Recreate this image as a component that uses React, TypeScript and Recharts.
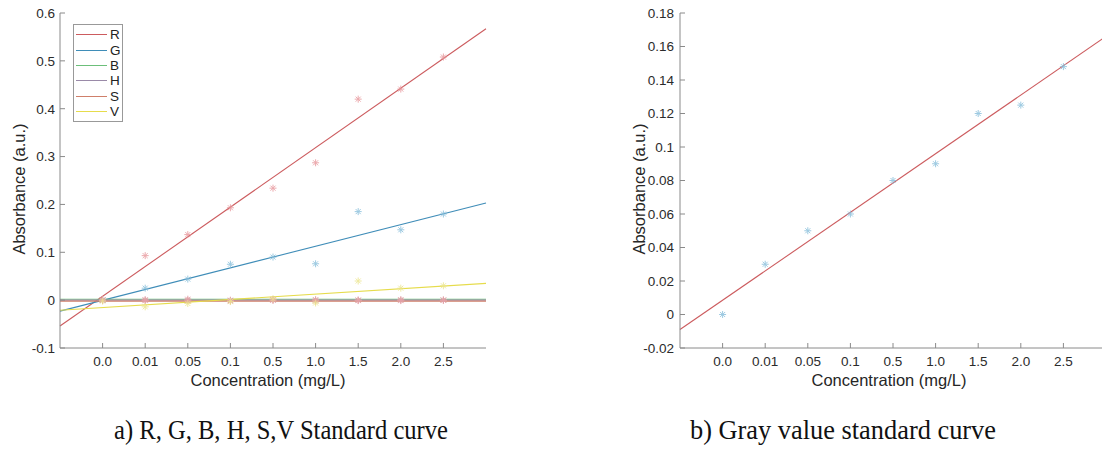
import React from "react";
import { ComposedChart, Line, Scatter, XAxis, YAxis, Legend } from "recharts";

// concentration categories (mg/L), plotted at positions 1..9
const concLabels = ["0.0", "0.01", "0.05", "0.1", "0.5", "1.0", "1.5", "2.0", "2.5"];

// measured absorbance per channel
const rPoints = [0.0, 0.093, 0.137, 0.193, 0.234, 0.287, 0.42, 0.441, 0.508];
const gPoints = [0.0, 0.025, 0.044, 0.075, 0.09, 0.076, 0.185, 0.147, 0.18];
const bPoints = [0.0, 0.001, 0.002, -0.001, 0.0, -0.002, 0.0, 0.001, 0.0];
const hPoints = [0.0, 0.0, -0.001, 0.0, 0.001, 0.0, 0.0, -0.001, 0.0];
const sPoints = [0.0, -0.001, 0.0, -0.002, 0.0, 0.001, -0.001, 0.0, 0.0];
const vPoints = [-0.002, -0.014, -0.007, -0.003, 0.003, -0.006, 0.04, 0.025, 0.03];
const grayPoints = [0.0, 0.03, 0.05, 0.06, 0.08, 0.09, 0.12, 0.125, 0.148];

// fitted standard curves: value at the left and right ends of the x range
const fitX = [0, 10];
const rFit = [-0.054, 0.567];
const gFit = [-0.023, 0.203];
const bFit = [0.002, 0.002];
const hFit = [0.0, 0.0];
const sFit = [-0.002, -0.002];
const vFit = [-0.021, 0.035];
const grayFit = [-0.009, 0.166];

const leftTicks = [-0.1, 0, 0.1, 0.2, 0.3, 0.4, 0.5, 0.6];
const rightTicks = [-0.02, 0, 0.02, 0.04, 0.06, 0.08, 0.1, 0.12, 0.14, 0.16, 0.18];
const xTicks = concLabels.map((_, i) => i + 1);

const channels = [
  { name: "R", points: rPoints, fit: rFit, line: "#cc5b5e", mark: "#e8959a" },
  { name: "G", points: gPoints, fit: gFit, line: "#3f8db8", mark: "#86bedb" },
  { name: "B", points: bPoints, fit: bFit, line: "#6cbf7a", mark: "#e4a2a8" },
  { name: "H", points: hPoints, fit: hFit, line: "#9a8aa8", mark: "#e4a2a8" },
  { name: "S", points: sPoints, fit: sFit, line: "#cf7f6a", mark: "#e4a2a8" },
  { name: "V", points: vPoints, fit: vFit, line: "#e6dc4c", mark: "#ece68c" },
];

const toPoints = (vals: number[]) => vals.map((y, i) => ({ x: i + 1, y }));
const toFit = (vals: number[]) => vals.map((y, i) => ({ x: fitX[i], y }));

const AXIS = "#8a8a8a";
const FONT = "'Liberation Sans', Arial, sans-serif";
const tickStyle = { fontSize: 13.5, fill: "#2b2b2b", fontFamily: FONT };
const tickLine = { stroke: AXIS, strokeWidth: 1 };
const noLabel = () => <g />;

const asterisk = (color: string) => (props: any) => {
  const { cx, cy } = props;
  const r = 3.5;
  const d = 2.5;
  return (
    <g stroke={color} strokeWidth={1} opacity={0.8}>
      <line x1={cx - r} y1={cy} x2={cx + r} y2={cy} />
      <line x1={cx} y1={cy - r} x2={cx} y2={cy + r} />
      <line x1={cx - d} y1={cy - d} x2={cx + d} y2={cy + d} />
      <line x1={cx - d} y1={cy + d} x2={cx + d} y2={cy - d} />
    </g>
  );
};

const LegendBox = () => (
  <div
    style={{
      width: 50,
      height: 98,
      boxSizing: "border-box",
      border: "1px solid #999",
      background: "#fff",
      paddingTop: 2,
      fontFamily: FONT,
      fontSize: 13.5,
      color: "#222",
    }}
  >
    {channels.map((c) => (
      <div key={c.name} style={{ display: "flex", alignItems: "center", height: 15.4 }}>
        <div style={{ width: 31, height: 1, background: c.line, marginLeft: 2, marginRight: 3 }} />
        <span style={{ lineHeight: "15px" }}>{c.name}</span>
      </div>
    ))}
  </div>
);

function Axes({ ticks, domain, yWidth, tickMargin }: any) {
  return (
    <>
      <XAxis
        xAxisId={0}
        type="number"
        dataKey="x"
        domain={[0, 10]}
        ticks={xTicks}
        tickFormatter={(v: number) => concLabels[v - 1]}
        tick={tickStyle}
        tickLine={tickLine}
        stroke={AXIS}
        tickSize={-5}
        tickMargin={13}
        height={40}
        interval={0}
      />
      <XAxis
        xAxisId="top"
        orientation="top"
        type="number"
        domain={[0, 10]}
        ticks={xTicks}
        tick={noLabel}
        tickLine={tickLine}
        stroke={AXIS}
        tickSize={-5}
        height={0}
        interval={0}
      />
      <YAxis
        yAxisId={0}
        type="number"
        domain={domain}
        ticks={ticks}
        tick={tickStyle}
        tickLine={tickLine}
        stroke={AXIS}
        tickSize={-5}
        tickMargin={tickMargin}
        width={yWidth}
        interval={0}
      />
      <YAxis
        yAxisId="right"
        orientation="right"
        type="number"
        domain={domain}
        ticks={ticks}
        tick={noLabel}
        tickLine={tickLine}
        stroke={AXIS}
        tickSize={-5}
        width={0}
        interval={0}
      />
    </>
  );
}

export default function App() {
  return (
    <div style={{ position: "relative", width: 1102, height: 455, overflow: "hidden", background: "#fff" }}>
      <style>{"body{margin:0}"}</style>

      <div style={{ position: "absolute", left: 0, top: 0 }}>
        <ComposedChart width={500} height={400} margin={{ top: 13, right: 14, bottom: 12, left: 0 }}>
          {Axes({ ticks: leftTicks, domain: [-0.1, 0.6], yWidth: 60, tickMargin: 10 })}
          {channels.map((c) => (
            <Scatter
              key={"p" + c.name}
              data={toPoints(c.points)}
              dataKey="y"
              shape={asterisk(c.mark)}
              legendType="none"
              isAnimationActive={false}
            />
          ))}
          {channels.map((c) => (
            <Line
              key={"f" + c.name}
              name={c.name}
              data={toFit(c.fit)}
              dataKey="y"
              stroke={c.line}
              strokeWidth={1.1}
              dot={false}
              activeDot={false}
              isAnimationActive={false}
            />
          ))}
          <Legend
            layout="vertical"
            align="center"
            verticalAlign="middle"
            content={() => <LegendBox />}
            wrapperStyle={{ left: 73, top: 24, width: 50, height: 98 }}
          />
        </ComposedChart>
      </div>

      <div style={{ position: "absolute", left: 600, top: 0 }}>
        <ComposedChart width={520} height={400} margin={{ top: 13, right: 14, bottom: 12, left: 0 }}>
          {Axes({ ticks: rightTicks, domain: [-0.02, 0.18], yWidth: 80, tickMargin: 11 })}
          <Scatter
            data={toPoints(grayPoints)}
            dataKey="y"
            shape={asterisk("#86bedb")}
            legendType="none"
            isAnimationActive={false}
          />
          <Line
            data={toFit(grayFit)}
            dataKey="y"
            stroke="#cc5b5e"
            strokeWidth={1.1}
            dot={false}
            activeDot={false}
            isAnimationActive={false}
          />
        </ComposedChart>
      </div>

      <svg
        width={1102}
        height={455}
        style={{ position: "absolute", left: 0, top: 0, pointerEvents: "none" }}
      >
        <g fontFamily={FONT} fontSize={16.5} fill="#262626" textAnchor="middle">
          <text x={268} y={386}>Concentration (mg/L)</text>
          <text x={889} y={386}>Concentration (mg/L)</text>
          <text transform="translate(25,189) rotate(-90)">Absorbance (a.u.)</text>
          <text transform="translate(645,189) rotate(-90)">Absorbance (a.u.)</text>
        </g>
        <g fontFamily="'Liberation Serif', 'Times New Roman', serif" fontSize={27} fill="#111">
          <text x={114} y={439} textLength={334} lengthAdjust="spacingAndGlyphs">
            a) R, G, B, H, S,V Standard curve
          </text>
          <text x={690} y={439} textLength={306} lengthAdjust="spacingAndGlyphs">
            b) Gray value standard curve
          </text>
        </g>
      </svg>
    </div>
  );
}
